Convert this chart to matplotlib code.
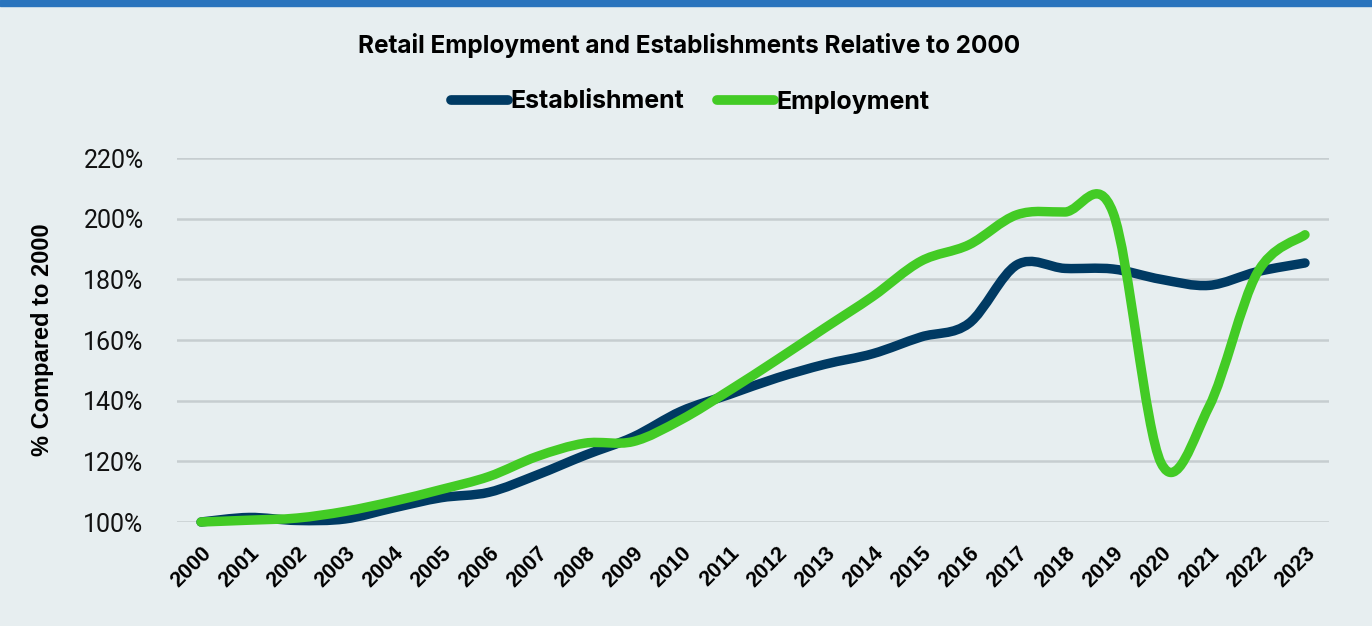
import matplotlib
matplotlib.use('Agg')
import matplotlib.pyplot as plt
from matplotlib.path import Path
from matplotlib.patches import PathPatch, Rectangle
from matplotlib.lines import Line2D
import numpy as np

years = [str(y) for y in range(2000, 2024)]
establishment = [100, 101.5, 100.5, 101, 104.6, 108, 109.8, 115.5, 122, 128, 136.5, 142,
                 147.5, 152, 155.5, 161, 165.5, 184.8, 183.6, 183.4, 180, 178, 182.5, 185.4]
employment = [100, 100.6, 101.3, 103.5, 106.8, 110.7, 115, 121.6, 126, 126.5, 133.7, 143.3,
              153.5, 164, 174.4, 186, 191.4, 201.3, 202.2, 202, 119.5, 138, 182, 194.7]
y_ticks = [100, 120, 140, 160, 180, 200, 220]

navy = '#003A63'
green = '#43CB25'
bg = '#E7EEF0'


def smooth_path(xs, ys):
    # Excel-style smoothed line: cubic bezier with 1/6 tangent control points
    pts = np.column_stack([xs, ys]).astype(float)
    n = len(pts)
    verts = [pts[0]]
    codes = [Path.MOVETO]
    for i in range(n - 1):
        p0 = pts[i - 1] if i > 0 else pts[i]
        p1 = pts[i]
        p2 = pts[i + 1]
        p3 = pts[i + 2] if i + 2 < n else pts[i + 1]
        c1 = p1 + (p2 - p0) / 6.0
        c2 = p2 - (p3 - p1) / 6.0
        verts += [c1, c2, p2]
        codes += [Path.CURVE4] * 3
    return Path(verts, codes)


fig = plt.figure(figsize=(13.72, 6.26), dpi=100, facecolor=bg)
fig.patches.append(Rectangle((0, 1 - 6 / 626), 1, 6 / 626, transform=fig.transFigure,
                             color='#2A74BD', zorder=5))

ax = fig.add_axes([177 / 1372, 1 - 522 / 626, (1329 - 177) / 1372, (522 - 158) / 626])
ax.set_facecolor(bg)

x = np.arange(len(years))
for series, col in [(establishment, navy), (employment, green)]:
    patch = PathPatch(smooth_path(x, series), facecolor='none', edgecolor=col, lw=6.8,
                      capstyle='round', joinstyle='round', zorder=3, clip_on=False)
    ax.add_patch(patch)

ax.set_xlim(-0.5, len(years) - 0.5)
ax.set_ylim(100, 220)
ax.set_yticks(y_ticks)
ax.set_yticklabels([f'{v}%' for v in y_ticks], fontsize=18, family='Roboto', color='#111111')
ax.set_xticks(x)
ax.set_xticklabels(years, rotation=45, ha='right', va='top', rotation_mode='anchor',
                   fontsize=15.5, fontweight='bold', family='Liberation Sans')
ax.tick_params(axis='both', length=0)
ax.tick_params(axis='x', pad=15)
ax.tick_params(axis='y', pad=24)
ax.grid(axis='y', color='#C6CDD0', lw=1.8)
ax.set_axisbelow(True)
for s in ax.spines.values():
    s.set_visible(False)

ax.set_ylabel('% Compared to 2000', fontsize=17, fontweight='bold', family='Liberation Sans')
ax.yaxis.set_label_coords(-(177 - 54) / 1152, 0.5)

fig.text(689 / 1372, 1 - 45 / 626, 'Retail Employment and Establishments Relative to 2000',
         ha='center', va='center', fontsize=17.5, fontweight='bold', family='Inter')

handles = [Line2D([], [], color=navy, lw=7, solid_capstyle='round'),
           Line2D([], [], color=green, lw=7, solid_capstyle='round')]
fig.legend(handles, ['Establishment', 'Employment'], loc='center', ncol=2,
           bbox_to_anchor=(690 / 1372, 1 - 102 / 626), frameon=False, handlelength=2.3,
           handletextpad=0.08, columnspacing=1.3,
           prop={'family': 'Inter', 'weight': 'bold', 'size': 18})

fig.savefig('out.png', dpi=100, facecolor=bg)
